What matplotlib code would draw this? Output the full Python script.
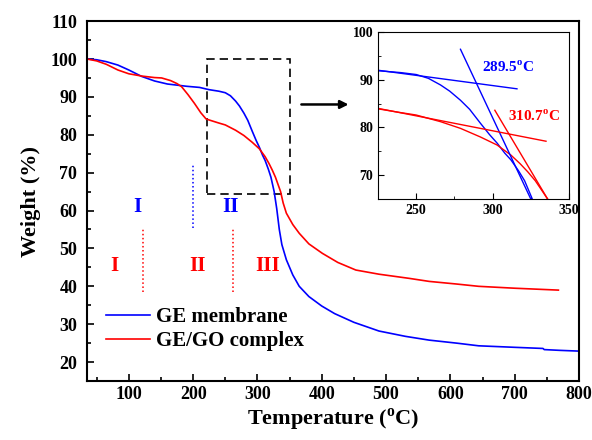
import matplotlib
matplotlib.use("Agg")
import matplotlib.pyplot as plt
from matplotlib.patches import Rectangle
from matplotlib.ticker import MultipleLocator

plt.rcParams['font.family'] = ['Liberation Serif', 'DejaVu Serif']
plt.rcParams['font.weight'] = 'bold'
plt.rcParams['mathtext.fontset'] = 'custom'
plt.rcParams['mathtext.rm'] = 'Liberation Serif:bold'
plt.rcParams['mathtext.bf'] = 'Liberation Serif:bold'

# datos TGA
t_ge = [35, 50, 65, 83, 100, 120, 140, 160, 190, 210, 225, 240, 250, 258, 266, 272,
        279, 285, 292, 298, 303, 308, 312, 317, 321, 326, 330, 334, 338, 345, 355,
        365, 380, 400, 420, 450, 489, 530, 567, 610, 644, 700, 744, 746, 770, 800]
w_ge = [100.0, 99.8, 99.3, 98.4, 97.1, 95.4, 94.2, 93.4, 92.8, 92.5, 91.9, 91.5, 91.1,
        90.3, 88.9, 87.6, 85.7, 83.8, 80.9, 78.5, 76.7, 74.6, 73.2, 70.9, 68.8, 65.0,
        60.5, 55.0, 51.0, 47.0, 43.0, 40.0, 37.3, 34.8, 32.8, 30.5, 28.2, 26.8, 25.8,
        25.0, 24.3, 23.9, 23.6, 23.3, 23.1, 22.9]

t_go = [35, 50, 65, 83, 100, 120, 140, 151, 165, 175, 182, 192, 202, 212, 220, 225,
        240, 250, 266, 279, 292, 303, 312, 318, 323, 328, 332, 336, 340, 345, 355,
        365, 380, 401, 425, 453, 489, 536, 567, 610, 644, 700, 768]
w_go = [100.0, 99.5, 98.6, 97.1, 96.1, 95.5, 95.1, 95.0, 94.3, 93.5, 92.7, 90.6, 88.3,
        85.8, 84.2, 83.9, 83.1, 82.6, 81.2, 79.8, 78.0, 76.3, 74.2, 72.4, 70.7, 68.8,
        66.9, 65.0, 62.0, 59.3, 56.3, 54.0, 51.2, 48.7, 46.3, 44.3, 43.2, 42.1, 41.3,
        40.6, 40.0, 39.5, 39.0]

# tangentes (inset)
tan_ge_x1, tan_ge_y1 = [225, 316], [92.0, 88.1]
tan_ge_x2, tan_ge_y2 = [279, 325], [96.4, 65.0]
tan_go_x1, tan_go_y1 = [225, 335], [84.0, 77.1]
tan_go_x2, tan_go_y2 = [301.5, 336], [83.6, 65.0]
onset_ge = "289.5"
onset_go = "310.7"

fig = plt.figure(figsize=(5.92, 4.4), dpi=100)
ax = fig.add_axes([0.147, 0.134, 0.831, 0.818])

ax.plot(t_ge, w_ge, color='blue', lw=1.2, label='GE membrane')
ax.plot(t_go, w_go, color='red', lw=1.2, label='GE/GO complex')

ax.set_xlim(35, 800)
ax.set_ylim(15, 110)
ax.xaxis.set_major_locator(MultipleLocator(100))
ax.xaxis.set_minor_locator(MultipleLocator(50))
ax.yaxis.set_major_locator(MultipleLocator(10))
ax.yaxis.set_minor_locator(MultipleLocator(5))
ax.tick_params(direction='in', which='major', length=5, width=1.2, labelsize=13)
ax.tick_params(axis='y', which='major', pad=7)
ax.tick_params(direction='in', which='minor', length=3, width=1.2)
for s in ax.spines.values():
    s.set_linewidth(1.5)
ax.set_xlabel(r'Temperature ($^{\mathrm{o}}$C)', fontsize=16, fontweight='bold', labelpad=3)
ax.set_ylabel('Weight (%)', fontsize=16, fontweight='bold', labelpad=7)

# etapas
ax.plot([200, 200], [55.4, 72], color='blue', ls=':', lw=1.1)
ax.plot([122, 122], [38.5, 55.2], color='red', ls=':', lw=1.1)
ax.plot([262, 262], [38.5, 55.2], color='red', ls=':', lw=1.1)
ax.text(113, 61, 'I', color='blue', fontsize=15, ha='center', va='center')
ax.text(258, 61, 'II', color='blue', fontsize=15, ha='center', va='center')
ax.text(78, 45.4, 'I', color='red', fontsize=15, ha='center', va='center')
ax.text(207, 45.4, 'II', color='red', fontsize=15, ha='center', va='center')
ax.text(316, 45.4, 'III', color='red', fontsize=15, ha='center', va='center')

ax.add_patch(Rectangle((221, 64.5), 129, 35.5, fill=False, ls=(0, (5, 3)), lw=1.2, ec='black'))
ax.annotate('', xy=(446, 88), xytext=(364, 88),
            arrowprops=dict(arrowstyle='-|>', color='black', lw=1.8, mutation_scale=12))

ax.legend(loc='lower left', bbox_to_anchor=(0.0, 0.03), frameon=False, fontsize=15,
          handlelength=2.1, handletextpad=0.3, labelspacing=0.2)

# inset
ins = fig.add_axes([0.6385, 0.548, 0.3225, 0.379])
ins.plot(t_ge, w_ge, color='blue', lw=1.0)
ins.plot(t_go, w_go, color='red', lw=1.0)
ins.plot(tan_ge_x1, tan_ge_y1, color='blue', lw=1.0)
ins.plot(tan_ge_x2, tan_ge_y2, color='blue', lw=1.0)
ins.plot(tan_go_x1, tan_go_y1, color='red', lw=1.0)
ins.plot(tan_go_x2, tan_go_y2, color='red', lw=1.0)
ins.set_xlim(225, 350)
ins.set_ylim(65, 100)
ins.xaxis.set_major_locator(MultipleLocator(50))
ins.xaxis.set_minor_locator(MultipleLocator(25))
ins.yaxis.set_major_locator(MultipleLocator(10))
ins.yaxis.set_minor_locator(MultipleLocator(5))
ins.tick_params(direction='in', which='major', length=4, labelsize=10)
ins.tick_params(direction='in', which='minor', length=2)
ins.text(293, 91.6, onset_ge + r'$^{\mathrm{o}}$C', color='blue', fontsize=11)
ins.text(310, 81.3, onset_go + r'$^{\mathrm{o}}$C', color='red', fontsize=11)

fig.savefig('out.png', dpi=100)
